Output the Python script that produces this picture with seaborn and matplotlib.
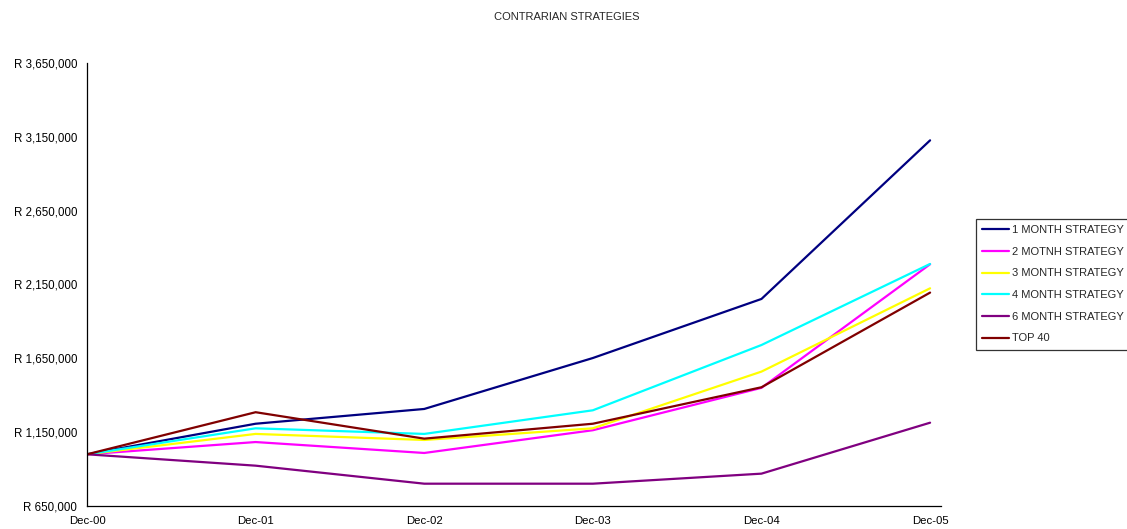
import matplotlib
matplotlib.use("Agg")
import matplotlib.pyplot as plt
import matplotlib.ticker as mticker
import numpy as np
import pandas as pd
import seaborn as sns

# Portfolio values (Rand) at each year end
dates = ["Dec-00", "Dec-01", "Dec-02", "Dec-03", "Dec-04", "Dec-05"]
one_month = [1000000, 1207000, 1307000, 1652000, 2052000, 3126000]
two_month = [1000000, 1083000, 1009000, 1163000, 1450000, 2287000]
three_month = [1000000, 1138000, 1097000, 1176000, 1560000, 2124000]
four_month = [1000000, 1176000, 1138000, 1298000, 1740000, 2289000]
six_month = [1000000, 923000, 801000, 801000, 869000, 1214000]
top40 = [1000000, 1285000, 1106000, 1207000, 1454000, 2095000]

series_names = ["1 MONTH STRATEGY", "2 MOTNH STRATEGY", "3 MONTH STRATEGY",
                "4 MONTH STRATEGY", "6 MONTH STRATEGY", "TOP 40"]
series_values = [one_month, two_month, three_month, four_month, six_month, top40]
colors = ["#000080", "#FF00FF", "#FFFF00", "#00FFFF", "#800080", "#800000"]

frames = []
for name, vals in zip(series_names, series_values):
    frames.append(pd.DataFrame({"pos": np.arange(len(dates)), "value": vals, "series": name}))
df = pd.concat(frames, ignore_index=True)

sns.set_style("white")
plt.rcParams["font.family"] = ["Liberation Sans", "DejaVu Sans"]

fig = plt.figure(figsize=(11.27, 5.29), dpi=100)
ax = fig.add_axes([0.0772, 0.0435, 0.7578, 0.8375])

sns.lineplot(data=df, x="pos", y="value", hue="series", hue_order=series_names,
             palette=colors, linewidth=1.6, ax=ax, legend=True)

ax.set_xlim(0, 5.065)
ax.set_ylim(650000, 3650000)
ax.set_xticks(np.arange(len(dates)))
ax.set_xticklabels(dates)
ax.set_yticks(np.arange(650000, 3650001, 500000))
ax.yaxis.set_major_formatter(mticker.FuncFormatter(lambda v, p: f"R {v:,.0f}"))
ax.set_xlabel("")
ax.set_ylabel("")

for side in ["top", "right"]:
    ax.spines[side].set_visible(False)
for side in ["left", "bottom"]:
    ax.spines[side].set_color("black")
    ax.spines[side].set_linewidth(0.9)
ax.tick_params(axis="both", which="major", direction="out", length=4, width=0.9,
               color="black", labelsize=8.3, labelcolor="black", pad=3)
ax.tick_params(axis="x", pad=3.5, labelsize=8.2)

fig.text(0.503, 0.968, "CONTRARIAN STRATEGIES", ha="center", va="center", fontsize=8)

leg = ax.legend(loc="upper left", bbox_to_anchor=(976 / 1127, 1 - 219 / 529),
                bbox_transform=fig.transFigure, frameon=True, fancybox=False,
                edgecolor="black", fontsize=8, handlelength=2.45, handletextpad=0.2,
                labelspacing=1.05, borderpad=0.55, borderaxespad=0)
leg.get_frame().set_linewidth(0.9)
for line in leg.get_lines():
    line.set_linewidth(1.6)

fig.savefig("out.png", dpi=100)
